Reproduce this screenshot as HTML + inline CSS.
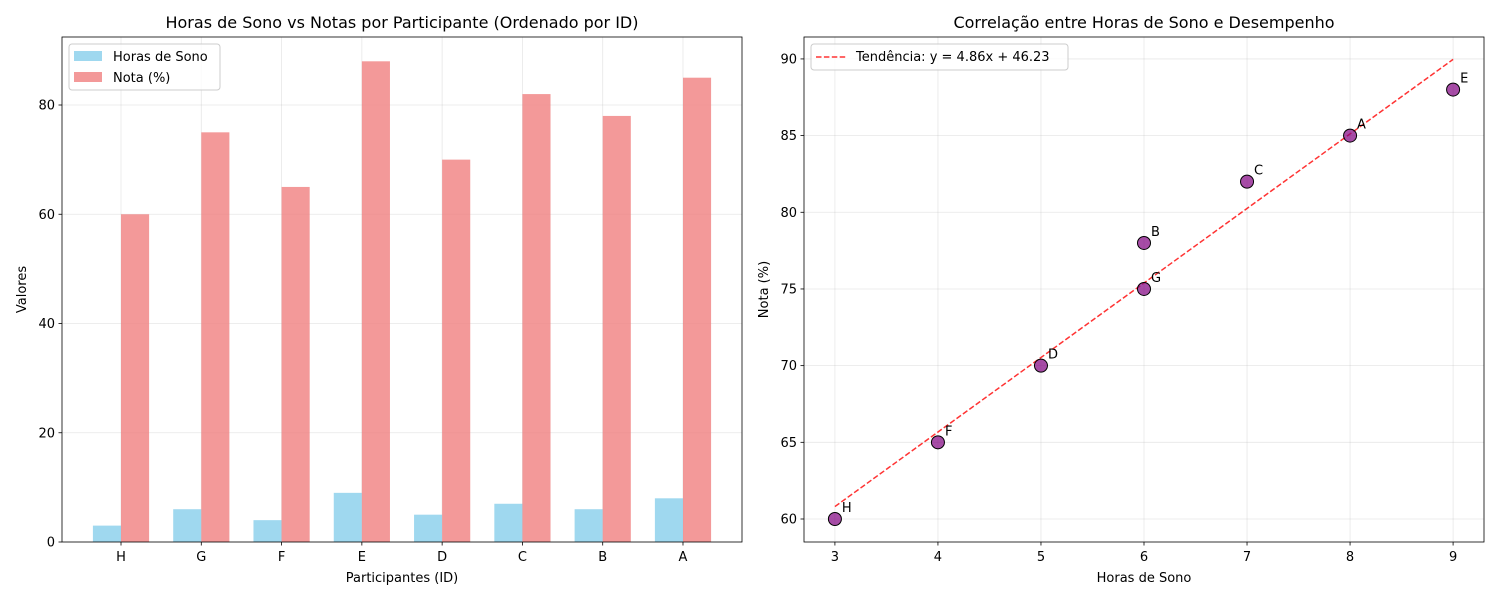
<!DOCTYPE html>
<html><head><meta charset="utf-8">
<style>
body{margin:0;background:#fff;font-family:"DejaVu Sans","Liberation Sans",sans-serif;}
svg text{font-family:"DejaVu Sans","Liberation Sans",sans-serif;}
</style></head>
<body>
<svg id="chart" width="1500" height="600" xmlns="http://www.w3.org/2000/svg"></svg>
<script>
const barCategories = ['H','G','F','E','D','C','B','A'];
const sleepHours = [3,6,4,9,5,7,6,8];
const grades = [60,75,65,88,70,82,78,85];
const leftYTicks = [0,20,40,60,80];
const scatterLabels = ['H','G','F','E','D','C','B','A'];
const scatterX = [3,6,4,9,5,7,6,8];
const scatterY = [60,75,65,88,70,82,78,85];
const rightXTicks = [3,4,5,6,7,8,9];
const rightYTicks = [60,65,70,75,80,85,90];
const trendSlope = 4.86;
const trendIntercept = 46.23;

const svg = document.getElementById('chart');
const NS = 'http://www.w3.org/2000/svg';
function mk(tag, attrs, parent, text){
  const e = document.createElementNS(NS, tag);
  for (const k in attrs) e.setAttribute(k, attrs[k]);
  if (text !== undefined) e.textContent = text;
  (parent || svg).appendChild(e);
  return e;
}

// ---- Left chart ----
const L = {x0:62, x1:742, y0:37, y1:542, xmin:-0.735, xmax:7.735, ymin:0, ymax:92.45};
const lx = v => L.x0 + (v - L.xmin) / (L.xmax - L.xmin) * (L.x1 - L.x0);
const ly = v => L.y1 - (v - L.ymin) / (L.ymax - L.ymin) * (L.y1 - L.y0);
const gL = mk('g', {});


barCategories.forEach((c, i) => {
  const g = mk('line', {x1:lx(i), x2:lx(i), y1:L.y0, y2:L.y1, stroke:'#b0b0b0', 'stroke-opacity':0.3, 'stroke-width':0.8}, gL);
  
  
});
leftYTicks.forEach(t => {
  const g = mk('line', {x1:L.x0, x2:L.x1, y1:ly(t), y2:ly(t), stroke:'#b0b0b0', 'stroke-opacity':0.3, 'stroke-width':0.8}, gL);
  
  
});
const bw = 0.35;
barCategories.forEach((c, i) => {
  const b1 = mk('rect', {x:lx(i - bw), y:ly(sleepHours[i]), width:lx(bw) - lx(0), height:ly(0) - ly(sleepHours[i]), fill:'#87ceeb', 'fill-opacity':0.8}, gL);
  
  
  const b2 = mk('rect', {x:lx(i), y:ly(grades[i]), width:lx(bw) - lx(0), height:ly(0) - ly(grades[i]), fill:'#f08080', 'fill-opacity':0.8}, gL);
  
  
  mk('line', {x1:lx(i), x2:lx(i), y1:L.y1, y2:L.y1 + 3.5, stroke:'#000', 'stroke-width':0.8}, gL);
  const t = mk('text', {x:lx(i), y:L.y1 + 19, 'font-size':13, 'text-anchor':'middle'}, gL, c);
  
  
});
leftYTicks.forEach(v => {
  mk('line', {x1:L.x0 - 3.5, x2:L.x0, y1:ly(v), y2:ly(v), stroke:'#000', 'stroke-width':0.8}, gL);
  const t = mk('text', {x:L.x0 - 7, y:ly(v) + 4.5, 'font-size':13, 'text-anchor':'end'}, gL, String(v));
  
  
});
mk('rect', {x:L.x0, y:L.y0, width:L.x1 - L.x0, height:L.y1 - L.y0, fill:'none', stroke:'#000', 'stroke-width':0.8}, gL);
let t = mk('text', {x:(L.x0 + L.x1)/2, y:28, 'font-size':16, 'text-anchor':'middle'}, gL, 'Horas de Sono vs Notas por Participante (Ordenado por ID)');
 
t = mk('text', {x:(L.x0 + L.x1)/2, y:582, 'font-size':13, 'text-anchor':'middle'}, gL, 'Participantes (ID)');
 
t = mk('text', {x:26, y:(L.y0 + L.y1)/2, 'font-size':13, 'text-anchor':'middle', transform:'rotate(-90 26 ' + (L.y0 + L.y1)/2 + ')'}, gL, 'Valores');
 
const lg = mk('g', {}, gL);
 
mk('rect', {x:69, y:44, width:151, height:46, rx:3, fill:'#fff', 'fill-opacity':0.8, stroke:'#ccc'}, lg);
mk('rect', {x:74, y:51, width:28, height:10, fill:'#87ceeb', 'fill-opacity':0.8}, lg);
mk('rect', {x:74, y:72, width:28, height:10, fill:'#f08080', 'fill-opacity':0.8}, lg);
mk('text', {x:113, y:61, 'font-size':13}, lg, 'Horas de Sono');
mk('text', {x:113, y:82, 'font-size':13}, lg, 'Nota (%)');

// ---- Right chart ----
const R = {x0:804, x1:1484, y0:37, y1:542, xmin:2.7, xmax:9.3, ymin:58.5, ymax:91.43};
const rx = v => R.x0 + (v - R.xmin) / (R.xmax - R.xmin) * (R.x1 - R.x0);
const ry = v => R.y1 - (v - R.ymin) / (R.ymax - R.ymin) * (R.y1 - R.y0);
const gR = mk('g', {});


rightXTicks.forEach(v => {
  mk('line', {x1:rx(v), x2:rx(v), y1:R.y0, y2:R.y1, stroke:'#b0b0b0', 'stroke-opacity':0.3, 'stroke-width':0.8}, gR);
  mk('line', {x1:rx(v), x2:rx(v), y1:R.y1, y2:R.y1 + 3.5, stroke:'#000', 'stroke-width':0.8}, gR);
  const tt = mk('text', {x:rx(v), y:R.y1 + 19, 'font-size':13, 'text-anchor':'middle'}, gR, String(v));
   
});
rightYTicks.forEach(v => {
  mk('line', {x1:R.x0, x2:R.x1, y1:ry(v), y2:ry(v), stroke:'#b0b0b0', 'stroke-opacity':0.3, 'stroke-width':0.8}, gR);
  mk('line', {x1:R.x0 - 3.5, x2:R.x0, y1:ry(v), y2:ry(v), stroke:'#000', 'stroke-width':0.8}, gR);
  const tt = mk('text', {x:R.x0 - 7, y:ry(v) + 4.5, 'font-size':13, 'text-anchor':'end'}, gR, String(v));
   
});
const xsMin = Math.min(...scatterX), xsMax = Math.max(...scatterX);
const tl = mk('line', {x1:rx(xsMin), y1:ry(trendSlope*xsMin + trendIntercept), x2:rx(xsMax), y2:ry(trendSlope*xsMax + trendIntercept), stroke:'#ff0000', 'stroke-opacity':0.8, 'stroke-width':1.5, 'stroke-dasharray':'5.5,2.4'}, gR);
 
scatterX.forEach((x, i) => {
  const c = mk('circle', {cx:rx(x), cy:ry(scatterY[i]), r:6.5, fill:'#800080', 'fill-opacity':0.7, stroke:'#000', 'stroke-width':1}, gR);
   
  const lbl = mk('text', {x:rx(x) + 7, y:ry(scatterY[i]) - 7, 'font-size':13}, gR, scatterLabels[i]);
   
});
mk('rect', {x:R.x0, y:R.y0, width:R.x1 - R.x0, height:R.y1 - R.y0, fill:'none', stroke:'#000', 'stroke-width':0.8}, gR);
t = mk('text', {x:(R.x0 + R.x1)/2, y:28, 'font-size':16, 'text-anchor':'middle'}, gR, 'Correlação entre Horas de Sono e Desempenho');
 
t = mk('text', {x:(R.x0 + R.x1)/2, y:582, 'font-size':13, 'text-anchor':'middle'}, gR, 'Horas de Sono');
 
t = mk('text', {x:768, y:(R.y0 + R.y1)/2, 'font-size':13, 'text-anchor':'middle', transform:'rotate(-90 768 ' + (R.y0 + R.y1)/2 + ')'}, gR, 'Nota (%)');
 
const rg = mk('g', {}, gR);
 
mk('rect', {x:811, y:44, width:257, height:26, rx:3, fill:'#fff', 'fill-opacity':0.8, stroke:'#ccc'}, rg);
mk('line', {x1:816, x2:846, y1:57, y2:57, stroke:'#ff0000', 'stroke-opacity':0.8, 'stroke-width':1.5, 'stroke-dasharray':'5.5,2.4'}, rg);
mk('text', {x:856, y:61, 'font-size':13}, rg, 'Tendência: y = ' + trendSlope.toFixed(2) + 'x + ' + trendIntercept.toFixed(2));
</script>
</body></html>
